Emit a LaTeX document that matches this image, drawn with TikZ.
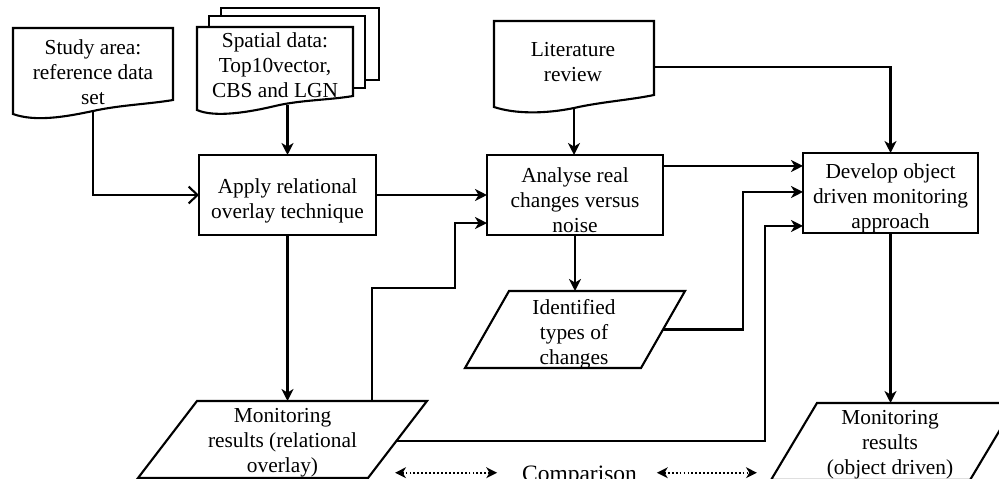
\documentclass[tikz,border=0pt]{standalone}
\usepackage{fontspec}
\setmainfont{Liberation Serif}
\usetikzlibrary{arrows.meta,calc}
\begin{document}
\begin{tikzpicture}[x=0.025cm,y=-0.025cm,
  every node/.style={font=\fontsize{15.2}{17.8}\selectfont, align=center, inner sep=0pt, outer sep=0pt},
  ln/.style={line width=1.5pt},
  arr/.style={ln, -{Stealth[length=0.3cm,width=0.3cm,inset=0.09cm]}},
  openarr/.style={ln, -{Straight Barb[length=0.22cm,width=0.42cm,line width=1.5pt]}},
  procbox/.style={draw, ln, minimum height=2cm},
  docnode/.style={draw=none},
  dataoutline/.style={ln, fill=white},
  dotarr/.style={line width=1.4pt, dash pattern=on 1.3pt off 1.5pt,
     {Stealth[length=0.27cm,width=0.27cm,inset=0.08cm]}-{Stealth[length=0.27cm,width=0.27cm,inset=0.08cm]}}
]
\useasboundingbox (0,0) rectangle (999,479);
\clip (0,0) rectangle (999,479);

% ---- documents (outlines)
\draw[ln, fill=white] (13,114) -- (13,28) -- (173,28) -- (173,100)
   .. controls (150,104) and (120,105) .. (93,111)
   .. controls (65,117) and (35,122) .. (13,114) -- cycle;
\draw[ln, fill=white] (221,8) rectangle (379,80);
\draw[ln, fill=white] (209,16) rectangle (365,88);
\draw[ln, fill=white] (197,110) -- (197,27) -- (353,27) -- (353,96)
   .. controls (330,100) and (300,100) .. (275,106)
   .. controls (250,112) and (215,118) .. (197,110) -- cycle;
\draw[ln, fill=white] (494,107) -- (494,21) -- (654,21) -- (654,95)
   .. controls (630,100) and (600,102) .. (574,108)
   .. controls (545,114) and (515,114) .. (494,107) -- cycle;

% ---- document nodes
\node[docnode, minimum width=4cm, minimum height=2.075cm] (study) at (93,69.5) {};
\node (studyt) at (93,72) {Study area:\\reference data\\set};
\node[docnode, minimum width=3.9cm, minimum height=1.95cm] (spatial) at (275,66) {};
\node (spatialt) at (275,65) {Spatial data:\\Top10vector,\\CBS and LGN};
\node[docnode, minimum width=4cm, minimum height=2.175cm] (lit) at (574,64.5) {};
\node (litt) at (573,62) {Literature\\review};

% ---- process boxes
\node[procbox, minimum width=4.425cm] (apply) at (287.5,195) {};
\node (applyt) at (287.5,201) {Apply relational\\overlay technique};
\node[procbox, minimum width=4.4cm] (analyse) at (575,195) {};
\node (analyset) at (575,200) {Analyse real\\changes versus\\noise};
\node[procbox, minimum width=4.375cm] (develop) at (890.5,193) {};
\node (developt) at (890.5,198) {Develop object\\driven monitoring\\approach};

% ---- data (parallelograms), drawn as outlines
\draw[dataoutline] (509,291) coordinate (ident-tl) -- (685,291) coordinate (ident-tr)
   -- (641,368) coordinate (ident-br) -- (465,368) coordinate (ident-bl) -- cycle;
\draw[dataoutline] (197,401) coordinate (monrel-tl) -- (427,401) coordinate (monrel-tr)
   -- (368,478) coordinate (monrel-br) -- (138,478) coordinate (monrel-bl) -- cycle;
\draw[dataoutline] (817,403) coordinate (monobj-tl) -- (1016,403) coordinate (monobj-tr)
   -- (970,480) coordinate (monobj-br) -- (771,480) coordinate (monobj-bl) -- cycle;
\node (ident) at (574,334) {Identified\\types of\\changes};
\node (monrel) at (282.5,443) {Monitoring\\results (relational\\overlay)};
\node (monobj) at (890,445) {Monitoring\\results\\(object driven)};
\coordinate (ident-r) at ($(ident-tr)!0.5!(ident-br)$);
\coordinate (monrel-r) at ($(monrel-tr)!0.52!(monrel-br)$);

% ---- comparison
\node[font=\fontsize{16.7}{19}\selectfont, anchor=base] (cmp) at (579.5,481) {Comparison};
\draw[dotarr] ($(cmp.west)+(-25,-3)$) -- ++(-102,0);
\draw[dotarr] ($(cmp.east)+(20,-3)$) -- ++(100,0);

% ---- bend columns
\coordinate (vx1) at ($(develop.north west)+(-60,0)$);
\coordinate (vx2) at ($(develop.north west)+(-38,0)$);

% ---- connectors
\draw[openarr] (study.south) |- (apply.west);
\draw[arr] (spatial.south -| apply.north) -- (apply.north);
\draw[arr] (lit.south) -- (lit.south |- analyse.north);
\draw[arr] ($(lit.east)+(0,2.5)$) -| (develop.north);
\draw[arr] (apply.east) -- (analyse.west);
\path ($(analyse.north east)+(0,11)$) coordinate (a2d);
\draw[arr] (a2d) -- (a2d -| develop.west);
\draw[arr] (analyse.south) -- (analyse.south |- ident-tl);
\draw[arr] (apply.south) -- (apply.south |- monrel-tl);
\draw[arr] ($(monrel-tr)+(-55,0)$) |- ++(83,-113) |- ($(analyse.south west)+(0,-12)$);
\draw[arr] (ident-r) -- (ident-r -| vx1) |- ($(develop.north west)+(0,39)$);
\draw[arr] (monrel-r) -- (monrel-r -| vx2) |- ($(develop.north west)+(0,73)$);
\draw[arr] (develop.south) -- (develop.south |- monobj-tl);
\end{tikzpicture}
\end{document}
